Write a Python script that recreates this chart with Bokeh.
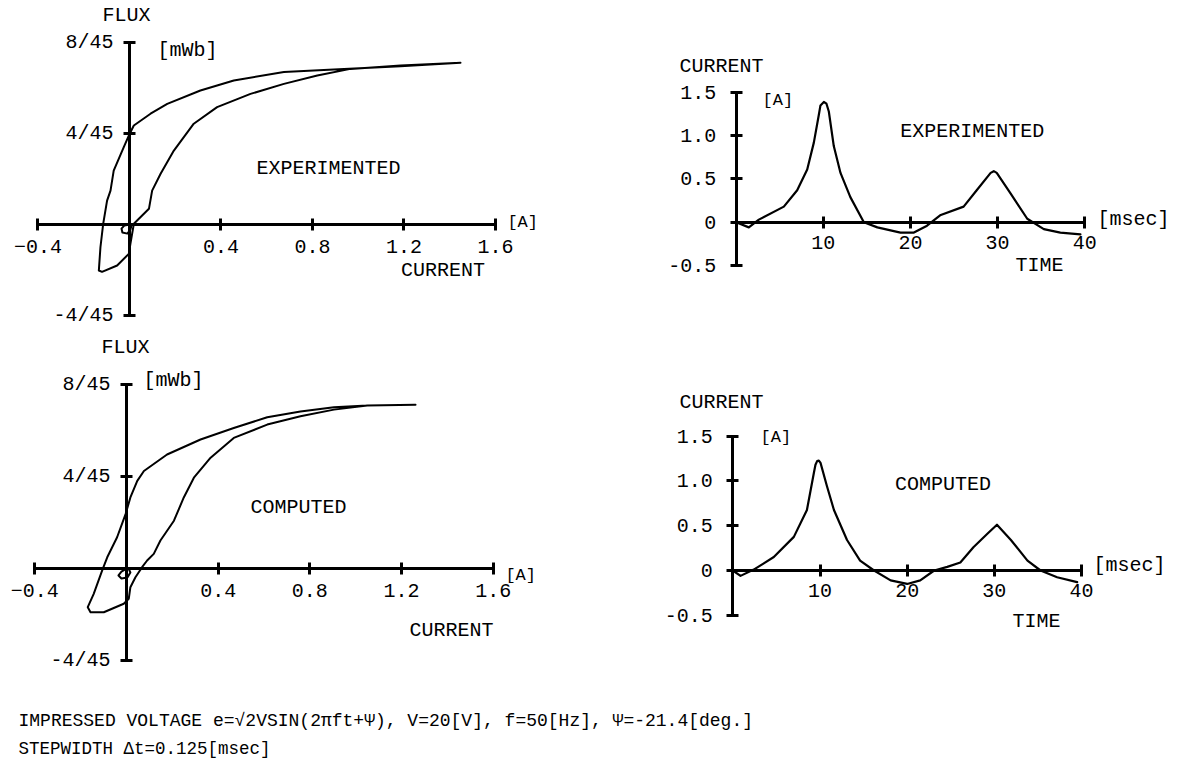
from bokeh.plotting import figure
from bokeh.models import LinearAxis, FixedTicker, Range1d, Label
from bokeh.layouts import column, row
from bokeh.embed import file_html
from bokeh.resources import INLINE

FONT = "Liberation Mono"

# ---------------- data ----------------
# Flux (in units of 1/45 mWb) vs current [A] -- experimented major loop
exp_loop_current = [1.447, 1.185, 0.893, 0.675, 0.456, 0.310, 0.165, 0.092, 0.019, -0.003,
                    -0.025, -0.069, -0.083, -0.098, -0.115, -0.127, -0.134, -0.120, -0.054,
                    -0.003, 0.004, 0.019, 0.085, 0.099, 0.136, 0.194, 0.281, 0.383, 0.529,
                    0.675, 0.821, 0.966, 1.185, 1.447]
exp_loop_flux45 = [7.11, 6.96, 6.81, 6.70, 6.33, 5.89, 5.30, 4.87, 4.35, 3.91,
                   3.40, 2.37, 1.49, 1.05, 0.03, -1.00, -2.02, -2.08, -1.80,
                   -1.29, -0.85, 0.03, 0.69, 1.49, 2.23, 3.25, 4.43, 5.16, 5.74,
                   6.18, 6.55, 6.84, 6.99, 7.11]
exp_minor_current = [0.0, -0.022, -0.035, -0.031, -0.009, 0.004, 0.009, 0.0]
exp_minor_flux45 = [0.0, -0.04, -0.18, -0.35, -0.40, -0.22, -0.04, 0.0]

# computed major loop
cmp_loop_current = [1.261, 1.050, 0.905, 0.759, 0.614, 0.468, 0.323, 0.177, 0.076, 0.047,
                    0.017, -0.004, -0.041, -0.084, -0.106, -0.143, -0.169, -0.157, -0.099,
                    -0.012, 0.010, 0.017, 0.039, 0.068, 0.090, 0.119, 0.148, 0.207, 0.250,
                    0.294, 0.367, 0.468, 0.614, 0.759, 0.905, 1.050, 1.261]
cmp_loop_flux45 = [7.13, 7.10, 7.02, 6.84, 6.59, 6.12, 5.62, 4.97, 4.25, 3.82,
                   3.10, 2.38, 1.37, 0.50, -0.07, -1.09, -1.67, -1.89, -1.89,
                   -1.52, -1.30, -0.80, -0.37, 0.07, 0.36, 0.65, 1.23, 2.09, 3.10,
                   3.96, 4.83, 5.69, 6.27, 6.63, 6.92, 7.10, 7.13]
cmp_minor_current = [0.0, -0.022, -0.035, -0.022, 0.004, 0.017, 0.009, 0.0]
cmp_minor_flux45 = [0.01, -0.12, -0.29, -0.42, -0.38, -0.16, 0.01, 0.01]

# Current [A] vs time [msec]
exp_time = [0, 1.45, 2.6, 5.47, 7.0, 8.15, 8.91, 9.48, 9.67, 10.06, 10.36, 10.63, 11.2,
            11.97, 13.1, 14.65, 16.2, 18.85, 20.4, 21.9, 23.4, 26.1, 27.6, 29.2, 29.56,
            29.9, 31.5, 33.4, 35.3, 37.2, 39.5]
exp_current = [0, -0.06, 0.03, 0.18, 0.37, 0.61, 0.92, 1.24, 1.35, 1.39, 1.37, 1.28, 0.88,
               0.57, 0.29, 0.0, -0.06, -0.12, -0.12, -0.04, 0.08, 0.18, 0.37, 0.57, 0.59,
               0.57, 0.33, 0.04, -0.08, -0.12, -0.14]
cmp_time = [0, 0.88, 2.4, 4.7, 7.0, 8.5, 9.3, 9.48, 9.67, 9.87, 10.06, 10.8, 11.6, 13.1,
            14.6, 16.2, 18.1, 20.0, 21.5, 23.1, 24.6, 26.1, 27.6, 29.2, 30.3, 31.9, 33.8,
            35.3, 37.2, 39.5]
cmp_current = [0, -0.06, 0.01, 0.15, 0.375, 0.675, 1.09, 1.18, 1.22, 1.226, 1.20, 0.94,
               0.675, 0.34, 0.11, 0.0, -0.11, -0.15, -0.11, 0.0, 0.04, 0.09, 0.26, 0.41,
               0.51, 0.34, 0.11, 0.0, -0.075, -0.13]

# ticks
flux_ticks = [-4, 4, 8]
flux_tick_labels = {-4: "-4/45", 4: "4/45", 8: "8/45"}
hyst_current_ticks = [-0.4, 0.4, 0.8, 1.2, 1.6]
time_ticks = [10, 20, 30, 40]
amp_ticks = [-0.5, 0, 0.5, 1, 1.5]
amp_tick_labels = {-0.5: "-0.5", 0: "0", 0.5: "0.5", 1: "1.0", 1.5: "1.5"}

# footer text
footer_line1 = ("IMPRESSED VOLTAGE e=\u221a2VSIN(2\u03c0ft+\u03a8), V=20[V], "
                "f=50[Hz], \u03a8=-21.4[deg.]")
footer_line2 = "STEPWIDTH \u0394t=0.125[msec]"


# ---------------- helpers ----------------
def panel(w, h, xr, yr):
    p = figure(width=w, height=h, x_range=Range1d(*xr), y_range=Range1d(*yr),
               x_axis_type=None, y_axis_type=None, toolbar_location=None,
               output_backend="svg", min_border=0)
    p.outline_line_color = None
    p.background_fill_color = "white"
    p.border_fill_color = "white"
    return p


def style_axis(ax, standoff, tick=6):
    ax.axis_line_width = 3
    ax.axis_line_color = "black"
    ax.major_tick_line_width = 3
    ax.major_tick_line_color = "black"
    ax.major_tick_in = tick
    ax.major_tick_out = tick
    ax.minor_tick_line_color = None
    ax.major_label_text_font = FONT
    ax.major_label_text_font_size = "20px"
    ax.major_label_text_color = "black"
    ax.major_label_standoff = standoff


def add_text(p, x, y, text, size="20px", align="center"):
    p.add_layout(Label(x=x, y=y, text=text, text_font=FONT, text_font_size=size,
                       text_align=align, text_baseline="middle", text_color="black"))


def hyst_panel(w, h, xr, yr, cur, flux, mcur, mflux):
    p = panel(w, h, xr, yr)
    xa = LinearAxis(fixed_location=0, bounds=(-0.4, 1.6), ticker=FixedTicker(ticks=hyst_current_ticks))
    style_axis(xa, 9)
    ya = LinearAxis(fixed_location=0, bounds=(-4, 8), ticker=FixedTicker(ticks=flux_ticks),
                    major_label_overrides=flux_tick_labels)
    style_axis(ya, 10)
    p.add_layout(xa, "below")
    p.add_layout(ya, "left")
    p.line(cur, flux, line_color="black", line_width=2, line_join="round", line_cap="round")
    p.line(mcur, mflux, line_color="black", line_width=2, line_join="round", line_cap="round")
    return p


def time_panel(w, h, xr, yr, t, i):
    p = panel(w, h, xr, yr)
    xa = LinearAxis(fixed_location=0, bounds=(0, 40), ticker=FixedTicker(ticks=time_ticks))
    style_axis(xa, 8)
    ya = LinearAxis(fixed_location=0, bounds=(-0.5, 1.5), ticker=FixedTicker(ticks=amp_ticks),
                    major_label_overrides=amp_tick_labels)
    style_axis(ya, 14)
    p.add_layout(xa, "below")
    p.add_layout(ya, "left")
    p.line(t, i, line_color="black", line_width=2.2, line_join="round", line_cap="round")
    return p


# ---------------- top-left: experimented loop ----------------
f1 = hyst_panel(560, 330, (-0.5639, 1.8842), (-4.659, 9.846),
                exp_loop_current, exp_loop_flux45, exp_minor_current, exp_minor_flux45)
add_text(f1, -0.013, 9.19, "FLUX")
add_text(f1, 0.122, 7.67, "[mWb]", align="left")
add_text(f1, 0.870, 2.46, "EXPERIMENTED")
add_text(f1, 1.652, 0.09, "[A]", size="17px", align="left")
add_text(f1, 1.371, -2.0, "CURRENT")

# ---------------- top-right: experimented current ----------------
f2 = time_panel(623, 330, (-20.16, 51.33), (-1.252, 2.563), exp_time, exp_current)
add_text(f2, -1.69, 1.80, "CURRENT")
add_text(f2, 3.02, 1.41, "[A]", size="17px", align="left")
add_text(f2, 27.1, 1.05, "EXPERIMENTED")
add_text(f2, 41.46, 0.03, "[msec]", align="left")
add_text(f2, 34.8, -0.50, "TIME")

# ---------------- bottom-left: computed loop ----------------
f3 = hyst_panel(560, 350, (-0.5497, 1.8935), (-4.857, 10.36),
                cmp_loop_current, cmp_loop_flux45, cmp_minor_current, cmp_minor_flux45)
add_text(f3, -0.004, 9.62, "FLUX")
add_text(f3, 0.074, 8.19, "[mWb]", align="left")
add_text(f3, 0.750, 2.67, "COMPUTED")
add_text(f3, 1.653, -0.29, "[A]", size="17px", align="left")
add_text(f3, 1.418, -2.68, "CURRENT")

# ---------------- bottom-right: computed current ----------------
f4 = time_panel(623, 350, (-19.77, 51.70), (-1.227, 2.677), cmp_time, cmp_current)
add_text(f4, -1.30, 1.87, "CURRENT")
add_text(f4, 3.18, 1.48, "[A]", size="17px", align="left")
add_text(f4, 24.11, 0.96, "COMPUTED")
add_text(f4, 41.37, 0.056, "[msec]", align="left")
add_text(f4, 34.84, -0.57, "TIME")

# ---------------- footer ----------------
f5 = panel(1183, 88, (0, 1183), (88, 0))
add_text(f5, 18, 40, footer_line1, size="18px", align="left")
add_text(f5, 18, 68, footer_line2, size="17.5px", align="left")

layout = column(row(f1, f2), row(f3, f4), f5)

with open("out.html", "w") as fh:
    fh.write(file_html(layout, INLINE))
